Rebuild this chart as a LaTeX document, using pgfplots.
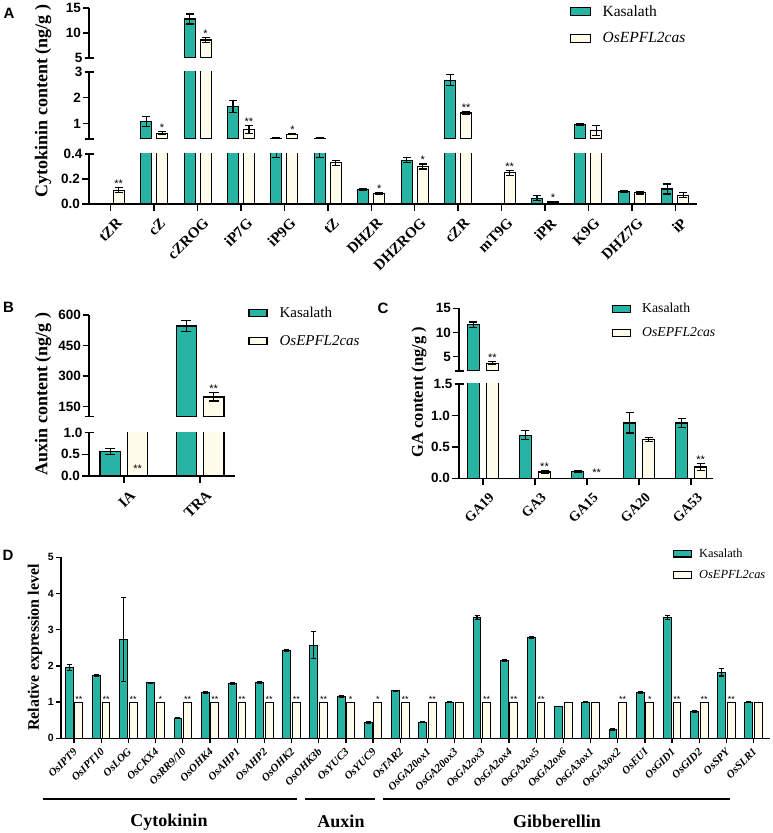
\documentclass[border=0pt]{standalone}
\usepackage{fontspec}
\setmainfont{Liberation Serif}
\setsansfont{Liberation Sans}
\usepackage{pgfplots}
\usepackage{pgfplotstable}
\pgfplotsset{compat=1.18}

\definecolor{kteal}{RGB}{40,180,165}
\definecolor{kcream}{RGB}{255,252,235}

% cytokinin (A)
\pgfplotstableread{
i k ke o oe
0 nan 0 0.11 0.02
1 1.07 0.20 0.63 0.07
2 12.8 1.0 8.6 0.5
3 1.67 0.23 0.76 0.16
4 0.42 0.05 0.59 0.03
5 0.41 0.04 0.33 0.02
6 0.117 0.005 0.086 0.008
7 0.35 0.02 0.30 0.02
8 2.68 0.22 1.41 0.04
9 nan 0 0.25 0.02
10 0.045 0.02 0.016 0.006
11 0.96 0.03 0.73 0.18
12 0.10 0.01 0.09 0.01
13 0.12 0.04 0.07 0.02
}\dataA
% auxin (B)
\pgfplotstableread{
i k ke o oe
0 0.57 0.07 nan 0
1 546 25 197 20
}\dataB
% GA (C)
\pgfplotstableread{
i k ke o oe
0 11.55 0.6 3.6 0.3
1 0.685 0.07 0.10 0.02
2 0.11 0.01 nan 0
3 0.88 0.16 0.62 0.03
4 0.88 0.07 0.18 0.05
}\dataC
% expression (D)
\pgfplotstableread{
i k ke o
0 1.96 0.09 1
1 1.73 0.02 1
2 2.73 1.15 1
3 1.53 0.02 1
4 0.56 0.01 1
5 1.27 0.02 1
6 1.51 0.02 1
7 1.54 0.03 1
8 2.42 0.02 1
9 2.57 0.37 1
10 1.15 0.02 1
11 0.43 0.02 1
12 1.31 0.02 1
13 0.45 0.02 1
14 1.00 0.01 1
15 3.33 0.05 1
16 2.15 0.03 1
17 2.78 0.02 1
18 0.88 0.01 1
19 1.00 0.02 1
20 0.25 0.02 1
21 1.27 0.02 1
22 3.34 0.05 1
23 0.74 0.02 1
24 1.82 0.10 1
25 1.00 0.01 1
}\dataD

\pgfplotsset{
  seg/.style={scale only axis, anchor=south west, enlargelimits=false,
    axis y line*=left,
    axis line style={line width=1.3pt, black},
    tick align=outside, major tick length=6pt,
    tick style={line width=1.3pt, black},
    clip marker paths=true,
    yticklabel style={font=\fontsize{13.5}{13.5}\sffamily\bfseries, inner sep=2pt},
    extra y tick style={tick align=center, major tick length=9pt}},
  upper/.style={axis x line=none, xtick=\empty},
  kbar/.style={ybar, fill=kteal, draw=black, line width=1.1pt, forget plot},
  obar/.style={ybar, fill=kcream, draw=black, line width=1.1pt, forget plot},
  ebar/.style={draw=none, mark=none, forget plot,
    /pgfplots/error bars/y dir=both, /pgfplots/error bars/y explicit,
    /pgfplots/error bars/error bar style={draw=black, line width=1.1pt},
    /pgfplots/error bars/error mark options={draw=black, rotate=90, mark size=#1, line width=1.1pt}},
  stars/.style={draw=none, mark=none, forget plot, point meta=explicit symbolic,
    nodes near coords={\pgfplotspointmeta},
    every node near coord/.append style={anchor=base, inner sep=0pt, font=\fontsize{#1}{#1}\sffamily}},
  legbox/.style n args={3}{legend image code/.code={\draw[fill=#1, draw=black, line width=1.1pt] (0pt,-#3) rectangle (#2,#3);}},
  catlab/.style={xticklabel style={xshift=9.5pt, yshift=-9pt, rotate=45, anchor=east, font=\fontsize{#1}{#1}\bfseries, inner sep=1pt}},
}

\begin{document}
\begin{tikzpicture}
\path[use as bounding box] (0pt,0pt) rectangle (773pt,833pt);

% ================= A =================
\begin{axis}[seg, at={(89pt,629pt)}, width=608pt, height=50pt,
  xmin=-0.5, xmax=13.5, ymin=0, ymax=0.4,
  axis x line*=bottom, xtick={0,...,13}, major tick length=7pt,
  xticklabels={tZR,cZ,cZROG,iP7G,iP9G,tZ,DHZR,DHZROG,cZR,mT9G,iPR,K9G,DHZ7G,iP},
  catlab=15,
  ytick={0,0.2}, yticklabels={0.0,0.2}, extra y ticks={0.4}, extra y tick labels={0.4}]
\addplot[kbar, bar width=0.253, bar shift=-0.184] table[x=i,y=k]{\dataA};
\addplot[obar, bar width=0.253, bar shift=0.184] table[x=i,y=o]{\dataA};
\addplot[ebar=4pt] table[x expr=\thisrow{i}-0.184,y=k,y error=ke]{\dataA};
\addplot[ebar=4pt] table[x expr=\thisrow{i}+0.184,y=o,y error=oe]{\dataA};
\addplot[stars=11] coordinates {(0.184,0.13)[**] (6.184,0.094)[*] (7.184,0.32)[*] (9.184,0.27)[**] (10.184,0.022)[*]};
\end{axis}
\begin{axis}[seg, upper, at={(89pt,694pt)}, width=608pt, height=67pt,
  xmin=-0.5, xmax=13.5, ymin=0.4, ymax=3,
  ytick={1,2}, yticklabels={1,2}, extra y ticks={0.4,3}, extra y tick labels={,3}]
\addplot[kbar, bar width=0.253, bar shift=-0.184, y filter/.expression={y<0.4?nan:y}] table[x=i,y=k]{\dataA};
\addplot[obar, bar width=0.253, bar shift=0.184, y filter/.expression={y<0.4?nan:y}] table[x=i,y=o]{\dataA};
\addplot[ebar=4pt] table[x expr=\thisrow{i}-0.184,y=k,y error=ke]{\dataA};
\addplot[ebar=4pt] table[x expr=\thisrow{i}+0.184,y=o,y error=oe]{\dataA};
\addplot[stars=11] coordinates {(1.184,0.70)[*] (3.184,0.92)[**] (4.184,0.62)[*] (8.184,1.45)[**]};
\end{axis}
\begin{axis}[seg, upper, at={(89pt,775pt)}, width=608pt, height=50pt,
  xmin=-0.5, xmax=13.5, ymin=5, ymax=15,
  ytick={10,15}, yticklabels={10,15}, extra y ticks={5}, extra y tick labels={5},
  legend style={draw=none, fill=none, at={(0.79,1.056)}, anchor=north west,
    inner sep=0pt, row sep=15pt, font=\fontsize{15.5}{15.5}\selectfont,
    nodes={inner sep=0pt}, /tikz/every odd column/.append style={column sep=12pt}},
  legend cell align=left]
\addplot[kbar, bar width=0.253, bar shift=-0.184, y filter/.expression={y<5?nan:y}] table[x=i,y=k]{\dataA};
\addplot[obar, bar width=0.253, bar shift=0.184, y filter/.expression={y<5?nan:y}] table[x=i,y=o]{\dataA};
\addplot[ebar=4pt] table[x expr=\thisrow{i}-0.184,y=k,y error=ke]{\dataA};
\addplot[ebar=4pt] table[x expr=\thisrow{i}+0.184,y=o,y error=oe]{\dataA};
\addplot[stars=11] coordinates {(2.184,9.1)[*]};
\addlegendimage{legbox={kteal}{20pt}{4pt}}
\addlegendentry{Kasalath}
\addlegendimage{legbox={kcream}{20pt}{4pt}}
\addlegendentry{\textit{OsEPFL2cas}}
\end{axis}

% ================= B =================
\begin{axis}[seg, at={(89pt,357pt)}, width=146pt, height=43.3pt,
  xmin=-0.46, xmax=1.46, ymin=0, ymax=1,
  axis x line*=bottom, xtick={0,1}, xticklabels={IA,TRA}, major tick length=7pt,
  catlab=15,
  ytick={0,0.5}, yticklabels={0.0,0.5}, extra y ticks={1}, extra y tick labels={1.0}]
% TRA bars are capped just above this segment
\addplot[kbar, bar width=0.27, bar shift=-0.18, y filter/.expression={min(y,2)}] table[x=i,y=k]{\dataB};
\addplot[obar, bar width=0.27, bar shift=0.18, y filter/.expression={min(y,2)}] table[x=i,y=o]{\dataB};
\addplot[ebar=5pt, skip coords between index={1}{2}] table[x expr=\thisrow{i}-0.18,y=k,y error=ke]{\dataB};
\addplot[stars=11] coordinates {(0.18,0.07)[**]};
\end{axis}
\begin{axis}[seg, upper, at={(89pt,416.3pt)}, width=146pt, height=101.7pt,
  xmin=-0.46, xmax=1.46, ymin=100, ymax=600,
  ytick={150,300,450,600}, yticklabels={150,300,450,600}, extra y ticks={100}, extra y tick labels={},
  legend style={draw=none, fill=none, at={(1.091,1.084)}, anchor=north west,
    inner sep=0pt, row sep=17pt, font=\fontsize{15}{15}\selectfont,
    nodes={inner sep=0pt}, /tikz/every odd column/.append style={column sep=12pt}},
  legend cell align=left]
\addplot[kbar, bar width=0.27, bar shift=-0.18, y filter/.expression={y<100?nan:y}] table[x=i,y=k]{\dataB};
\addplot[obar, bar width=0.27, bar shift=0.18, y filter/.expression={y<100?nan:y}] table[x=i,y=o]{\dataB};
\addplot[ebar=5pt, skip coords between index={0}{1}] table[x expr=\thisrow{i}-0.18,y=k,y error=ke]{\dataB};
\addplot[ebar=5pt, skip coords between index={0}{1}] table[x expr=\thisrow{i}+0.18,y=o,y error=oe]{\dataB};
\addplot[stars=11] coordinates {(1.18,217)[**]};
\addlegendimage{legbox={kteal}{18pt}{3.5pt}}
\addlegendentry{Kasalath}
\addlegendimage{legbox={kcream}{18pt}{3.5pt}}
\addlegendentry{\textit{OsEPFL2cas}}
\end{axis}

% ================= C =================
\begin{axis}[seg, at={(459pt,354.7pt)}, width=254pt, height=94.3pt,
  xmin=-0.46, xmax=4.42, ymin=0, ymax=1.5,
  axis x line*=bottom, xtick={0,...,4}, xticklabels={GA19,GA3,GA15,GA20,GA53}, major tick length=7pt,
  catlab=14,
  ytick={0,0.5,1}, yticklabels={0.0,0.5,1.0}, extra y ticks={1.5}, extra y tick labels={1.5}]
\addplot[kbar, bar width=0.237, bar shift=-0.183] table[x=i,y=k]{\dataC};
\addplot[obar, bar width=0.237, bar shift=0.183] table[x=i,y=o]{\dataC};
\addplot[ebar=4pt] table[x expr=\thisrow{i}-0.183,y=k,y error=ke]{\dataC};
\addplot[ebar=4pt] table[x expr=\thisrow{i}+0.183,y=o,y error=oe]{\dataC};
\addplot[stars=11] coordinates {(1.183,0.12)[**] (2.183,0.03)[**] (4.183,0.23)[**]};
\end{axis}
\begin{axis}[seg, upper, at={(459pt,462pt)}, width=254pt, height=62.7pt,
  xmin=-0.46, xmax=4.42, ymin=2, ymax=15,
  ytick={5,10,15}, yticklabels={5,10,15}, extra y ticks={2}, extra y tick labels={},
  legend style={draw=none, fill=none, at={(0.602,1.08)}, anchor=north west,
    inner sep=0pt, row sep=13pt, font=\fontsize{13.7}{13.7}\selectfont,
    nodes={inner sep=0pt}, /tikz/every odd column/.append style={column sep=11pt}},
  legend cell align=left]
\addplot[kbar, bar width=0.237, bar shift=-0.183, y filter/.expression={y<2?nan:y}] table[x=i,y=k]{\dataC};
\addplot[obar, bar width=0.237, bar shift=0.183, y filter/.expression={y<2?nan:y}] table[x=i,y=o]{\dataC};
\addplot[ebar=4pt] table[x expr=\thisrow{i}-0.183,y=k,y error=ke]{\dataC};
\addplot[ebar=4pt] table[x expr=\thisrow{i}+0.183,y=o,y error=oe]{\dataC};
\addplot[stars=11] coordinates {(0.183,3.9)[**]};
\addlegendimage{legbox={kteal}{18pt}{3.5pt}}
\addlegendentry{Kasalath}
\addlegendimage{legbox={kcream}{18pt}{3.5pt}}
\addlegendentry{\textit{OsEPFL2cas}}
\end{axis}

% ================= D =================
\begin{axis}[seg, at={(61pt,94.7pt)}, width=709pt, height=181pt,
  xmin=-0.48, xmax=25.6, ymin=0, ymax=5,
  major tick length=5pt, axis line style={line width=1.2pt},
  axis x line*=bottom, xtick={0,...,25},
  xticklabels={OsIPT9,OsIPT10,OsLOG,OsCKX4,OsRR9/10,OsOHK4,OsAHP1,OsAHP2,OsOHK2,OsOHK3b,OsYUC3,OsYUC9,OsTAR2,OsGA20ox1,OsGA20ox3,OsGA2ox3,OsGA2ox4,OsGA2ox5,OsGA2ox6,OsGA3ox1,OsGA3ox2,OsEUI,OsGID1,OsGID2,OsSPY,OsSLR1},
  xticklabel style={xshift=2pt, yshift=-6pt, rotate=45, anchor=east, font=\fontsize{11}{11}\bfseries\itshape, inner sep=1pt},
  ytick={0,...,5}, yticklabels={0,1,2,3,4,5},
  yticklabel style={font=\fontsize{10.5}{10.5}\sffamily\bfseries},
  legend style={draw=none, fill=none, at={(0.863,1.049)}, anchor=north west,
    inner sep=0pt, row sep=11.5pt, font=\fontsize{12.4}{12.4}\selectfont,
    nodes={inner sep=0pt}, /tikz/every odd column/.append style={column sep=7pt}},
  legend cell align=left]
\addplot[kbar, line width=1pt, bar width=0.29, bar shift=-0.177] table[x=i,y=k]{\dataD};
\addplot[obar, line width=1pt, bar width=0.29, bar shift=0.177] table[x=i,y=o]{\dataD};
\addplot[ebar=2.5pt] table[x expr=\thisrow{i}-0.177,y=k,y error=ke]{\dataD};
\addplot[stars=9] coordinates {(0.177,1)[**] (1.177,1)[**] (2.177,1)[**] (3.177,1)[*] (4.177,1)[**] (5.177,1)[**] (6.177,1)[**] (7.177,1)[**] (8.177,1)[**] (9.177,1)[**] (10.177,1)[*] (11.177,1)[*] (12.177,1)[**] (13.177,1)[**] (15.177,1)[**] (16.177,1)[**] (17.177,1)[**] (20.177,1)[**] (21.177,1)[*] (22.177,1)[**] (23.177,1)[**] (24.177,1)[**]};
\addlegendimage{legbox={kteal}{18pt}{3.3pt}}
\addlegendentry{Kasalath}
\addlegendimage{legbox={kcream}{18pt}{3.3pt}}
\addlegendentry{\textit{OsEPFL2cas}}
\end{axis}

% axis titles, panel letters, group labels
\node[rotate=90, font=\fontsize{18}{18}\bfseries] at (43pt,732pt) {Cytokinin content (ng/g )};
\node[rotate=90, font=\fontsize{18}{18}\bfseries] at (43pt,439pt) {Auxin content (ng/g )};
\node[rotate=90, font=\fontsize{16.5}{16.5}\bfseries] at (419pt,441pt) {GA content (ng/g )};
\node[rotate=90, font=\fontsize{16}{16}\bfseries] at (35pt,185.5pt) {Relative expression level};
\node[font=\fontsize{15}{15}\sffamily\bfseries] at (9pt,820pt) {A};
\node[font=\fontsize{15}{15}\sffamily\bfseries] at (8.5pt,526pt) {B};
\node[font=\fontsize{15}{15}\sffamily\bfseries] at (383pt,525pt) {C};
\node[font=\fontsize{15}{15}\sffamily\bfseries] at (8pt,278pt) {D};
\draw[line width=1.3pt] (43pt,34pt) -- (297pt,34pt);
\draw[line width=1.3pt] (305pt,34pt) -- (375pt,34pt);
\draw[line width=1.3pt] (383pt,34pt) -- (730pt,34pt);
\node[font=\fontsize{18}{18}\bfseries] at (169pt,11.3pt) {Cytokinin};
\node[font=\fontsize{18}{18}\bfseries] at (341pt,11.3pt) {Auxin};
\node[font=\fontsize{18}{18}\bfseries] at (557pt,11.3pt) {Gibberellin};
\end{tikzpicture}
\end{document}
